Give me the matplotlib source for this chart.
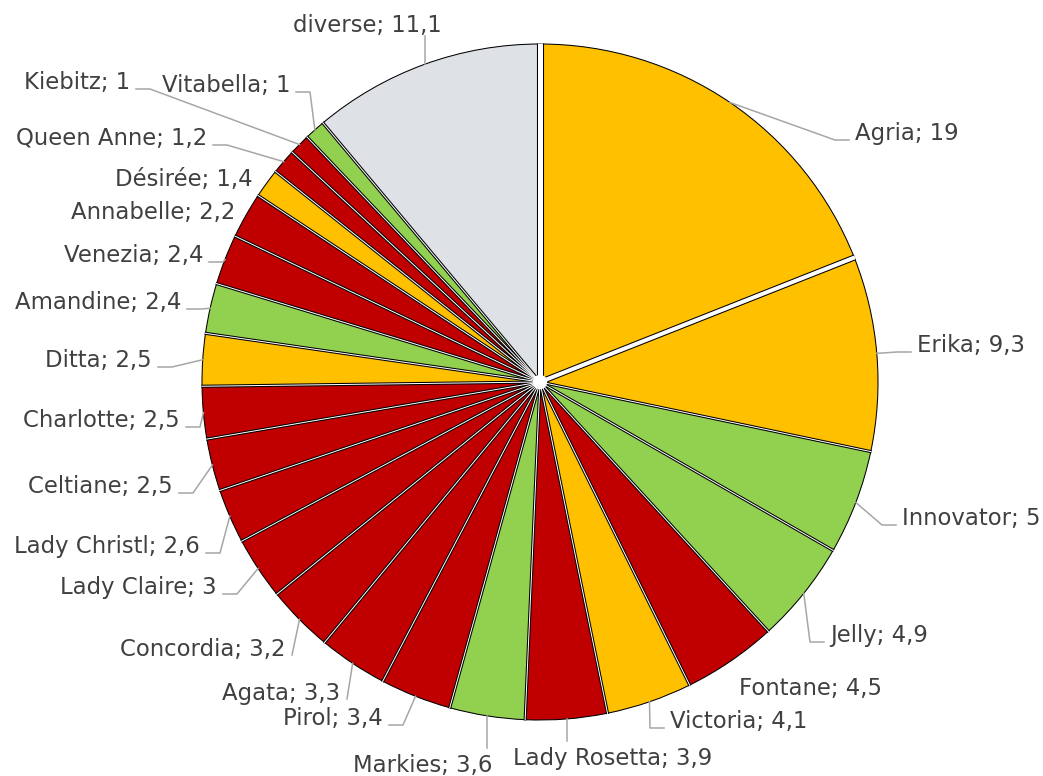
import numpy as np
import matplotlib.pyplot as plt

# Sorten und Anteile (%)
NAMES = ['Agria', 'Erika', 'Innovator', 'Jelly', 'Fontane', 'Victoria',
         'Lady Rosetta', 'Markies', 'Pirol', 'Agata', 'Concordia',
         'Lady Claire', 'Lady Christl', 'Celtiane', 'Charlotte', 'Ditta',
         'Amandine', 'Venezia', 'Annabelle', 'Désirée', 'Queen Anne',
         'Kiebitz', 'Vitabella', 'diverse']
SHARES = [19, 9.3, 5, 4.9, 4.5, 4.1, 3.9, 3.6, 3.4, 3.3, 3.2, 3, 2.6, 2.5,
          2.5, 2.5, 2.4, 2.4, 2.2, 1.4, 1.2, 1, 1, 11.1]
GROUPS = ['gelb', 'gelb', 'gruen', 'gruen', 'rot', 'gelb', 'rot', 'gruen',
          'rot', 'rot', 'rot', 'rot', 'rot', 'rot', 'rot', 'gelb', 'gruen',
          'rot', 'rot', 'gelb', 'rot', 'rot', 'gruen', 'diverse']

GROUP_COLORS = {'gelb': '#FFC000', 'gruen': '#92D050', 'rot': '#C00000',
                'diverse': '#DEE1E6'}

# label layout in pixel coords: x, baseline y, alignment, connector type
LABEL_POS = [
    (855, 140, 'left', 'side'), (917, 352, 'left', 'side'),
    (902, 525, 'left', 'side'), (830, 642, 'left', 'side'),
    (739, 695, 'left', None), (670, 728, 'left', 'side'),
    (513, 765, 'left', 'down'), (353, 772, 'left', 'down'),
    (383, 725, 'right', 'side'), (340, 700, 'right', 'direct'),
    (285, 656, 'right', 'direct'), (217, 594, 'right', 'side'),
    (200, 553, 'right', 'side'), (173, 493, 'right', 'side'),
    (180, 427, 'right', 'side'), (152, 367, 'right', 'side'),
    (181, 309, 'right', 'side'), (203, 262, 'right', 'side'),
    (235, 219, 'right', None), (253, 186, 'right', None),
    (207, 145, 'right', 'side'), (130, 89, 'right', 'side'),
    (290, 92, 'right', 'side'), (293, 32, 'left', 'up'),
]

CX, CY, R = 540, 382, 338
PX = 0.72  # points per pixel at dpi 100

def fmt(v):
    return '{:g}'.format(v).replace('.', ',')

fig = plt.figure(figsize=(10.43, 7.76), dpi=100)
ax = fig.add_axes([0, 0, 1, 1])

colors = [GROUP_COLORS[g] for g in GROUPS]
wedges, _ = ax.pie(SHARES, colors=colors, center=(CX, CY), radius=R,
                   startangle=-90, counterclock=True,
                   wedgeprops=dict(edgecolor='black', linewidth=0.75))
ax.set_xlim(0, 1043)
ax.set_ylim(776, 0)
ax.set_aspect('equal')
ax.axis('off')

# white separators with black rims between the slices
for i, w in enumerate(wedges):
    th = np.deg2rad(w.theta1)
    gap = 5 if i == 0 else (4 if i == 1 else 1)
    xs = [CX, CX + (R + 0.8) * np.cos(th)]
    ys = [CY, CY + (R + 0.8) * np.sin(th)]
    ax.plot(xs, ys, color='black', lw=(gap + 2.1) * PX,
            solid_capstyle='butt', zorder=3)
    ax.plot(xs, ys, color='white', lw=gap * PX,
            solid_capstyle='butt', zorder=4)

ax.add_patch(plt.Circle((CX, CY), 6.5, color='white', zorder=5))

# labels with connectors
for w, name, v, (tx, ty, ha, mode) in zip(wedges, NAMES, SHARES, LABEL_POS):
    ax.text(tx, ty, '{}; {}'.format(name, fmt(v)), ha=ha, va='baseline',
            fontsize=16.4, color='#404040')
    mid = np.deg2rad((w.theta1 + w.theta2) / 2)
    ex, ey = CX + R * np.cos(mid), CY + R * np.sin(mid)
    sgn = 1 if ha == 'left' else -1
    if mode == 'side':
        px, py = [ex, tx - sgn * 20, tx - sgn * 6], [ey, ty, ty]
    elif mode == 'direct':
        px, py = [ex, tx - sgn * 7], [ey, ty - 1]
    elif mode == 'down':
        px, py = [ex, ex], [ey, ty - 24]
    elif mode == 'up':
        px, py = [ex, ex], [ey, ty + 4]
    else:
        continue
    ax.plot(px, py, color='#A6A6A6', lw=1.1, zorder=1)

fig.savefig('out.png', dpi=100)
